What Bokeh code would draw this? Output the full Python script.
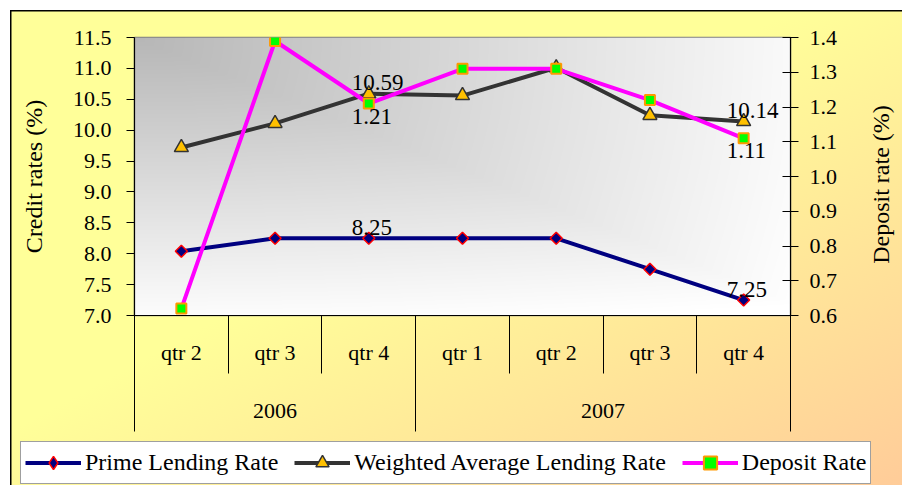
import numpy as np
from bokeh.plotting import figure
from bokeh.models import (Range1d, LinearAxis, FixedTicker, Legend, LegendItem,
                          ColumnDataSource, PrintfTickFormatter, Label)
from bokeh.embed import file_html
from bokeh.resources import INLINE
from bokeh.core.properties import value

# ---------------- data ----------------
quarters = ["qtr 2", "qtr 3", "qtr 4", "qtr 1", "qtr 2", "qtr 3", "qtr 4"]
years = ["2006", "2007"]
quarters_per_year = [3, 4]
prime_lending = [8.04, 8.25, 8.25, 8.25, 8.25, 7.75, 7.25]
weighted_avg_lending = [9.72, 10.11, 10.59, 10.56, 11.01, 10.24, 10.14]
deposit_rate = [0.62, 1.39, 1.21, 1.31, 1.31, 1.22, 1.11]
credit_ticks = [7.0, 7.5, 8.0, 8.5, 9.0, 9.5, 10.0, 10.5, 11.0, 11.5]
deposit_ticks = [0.6, 0.7, 0.8, 0.9, 1.0, 1.1, 1.2, 1.3, 1.4]
series_names = ["Prime Lending Rate", "Weighted Average Lending Rate", "Deposit Rate"]
left_title = "Credit rates (%)"
right_title = "Deposit rate (%)"
labelled_points = [2, 6]  # indices of points carrying data labels

FONT = "Liberation Serif"
BG = "linear-gradient(to bottom right, #FFFF99 45%, #FFCC99 100%) fixed"

# styles per series
STY = [
    dict(line_color="#000080", marker="square", angle=np.pi / 4, size=8.5, lmarker="diamond",
         fill_color="#000080", mline="#FF0000", mw=1.5),
    dict(line_color="#333333", marker="triangle", angle=0.0, size=14, lmarker="triangle",
         fill_color="#FFC000", mline="#333333", mw=1.5),
    dict(line_color="#FF00FF", marker="square", angle=0.0, size=10, lmarker="square",
         fill_color="#00FF00", mline="#FF9900", mw=2),
]

n = len(quarters)
xc = [i + 0.5 for i in range(n)]

p = figure(width=892, height=426, output_backend="svg", toolbar_location=None,
           x_range=Range1d(0, n), y_range=Range1d(credit_ticks[0], credit_ticks[-1]),
           min_border_left=124, min_border_right=112, min_border_top=27,
           min_border_bottom=121, x_axis_location=None, y_axis_location=None)
p.margin = (10, 0, 0, 10)
p.styles = {"background": BG, "box-shadow": "inset 1.5px 1.5px 0 0 #000000"}
p.border_fill_alpha = 0
p.background_fill_alpha = 0
p.outline_line_color = "#808080"
p.outline_line_width = 1.5
p.extra_y_ranges = {"dep": Range1d(deposit_ticks[0], deposit_ticks[-1]), "bg": Range1d(0, 1)}
p.extra_x_ranges = {"bg": Range1d(0, 1)}

# gradient plot area (style only)
H, W = 278, 656
v = np.linspace(1, 0, H)[:, None]   # 0 top, 1 bottom (row 0 = bottom)
u = np.linspace(0, 1, W)[None, :]
d = 0.75 * np.maximum(u, v * 1.05) + 0.25 * np.sqrt(u ** 2 + v ** 2) / np.sqrt(2)
d = np.clip(d, 0, 1)
g = (183 + (255 - 183) * d).astype(np.uint8)
img = np.empty((H, W), dtype=np.uint32)
view = img.view(dtype=np.uint8).reshape((H, W, 4))
view[..., 0] = g
view[..., 1] = g
view[..., 2] = g
view[..., 3] = 255
p.image_rgba(image=[img], x=0, y=0, dw=1, dh=1, x_range_name="bg", y_range_name="bg")

p.xgrid.visible = False
p.ygrid.ticker = FixedTicker(ticks=credit_ticks)
p.ygrid.grid_line_color = "#BEBEBE"
p.ygrid.grid_line_dash = "6 4"
p.ygrid.grid_line_width = 1

# left / right axes
la = LinearAxis(ticker=FixedTicker(ticks=credit_ticks),
                formatter=PrintfTickFormatter(format="%.1f"),
                axis_label=left_title)
ra = LinearAxis(y_range_name="dep", ticker=FixedTicker(ticks=deposit_ticks),
                formatter=PrintfTickFormatter(format="%.1f"))
for ax in (la, ra):
    ax.axis_line_color = "#000000"
    ax.axis_line_width = 1.2
    ax.major_tick_line_color = "#000000"
    ax.minor_tick_line_color = None
    ax.major_label_text_font = FONT
    ax.major_label_text_font_size = "22px"
    ax.major_label_text_color = "#000000"
    ax.axis_label_text_font = FONT
    ax.axis_label_text_font_size = "24px"
    ax.axis_label_text_font_style = "normal"
    ax.axis_label_text_color = "#000000"
la.major_tick_out = 8
la.major_tick_in = 0
la.major_label_standoff = 15
la.axis_label_standoff = 23
ra.major_tick_out = 8
ra.major_tick_in = 8
ra.major_label_standoff = 11
p.add_layout(la, "left")
p.add_layout(ra, "right")

# bottom axis: quarters
qa = LinearAxis(ticker=FixedTicker(ticks=xc, minor_ticks=list(range(n + 1))),
                major_label_overrides={x: q for x, q in zip(xc, quarters)})
# bottom axis: years
bounds = [0] + [int(b) for b in np.cumsum(quarters_per_year)]
ycent = [(bounds[i] + bounds[i + 1]) / 2 for i in range(len(years))]
ya = LinearAxis(ticker=FixedTicker(ticks=ycent, minor_ticks=[float(b) for b in bounds]),
                major_label_overrides={x: y for x, y in zip(ycent, years)})
for ax in (qa, ya):
    ax.major_tick_out = 0
    ax.major_tick_in = 0
    ax.minor_tick_in = 0
    ax.minor_tick_line_color = "#000000"
    ax.minor_tick_line_width = 1
    ax.major_label_text_font = FONT
    ax.major_label_text_font_size = "22px"
    ax.major_label_text_color = "#000000"
qa.axis_line_color = "#000000"
qa.axis_line_width = 1.2
qa.minor_tick_out = 58
qa.major_label_standoff = -34
ya.axis_line_color = None
ya.minor_tick_in = 52
ya.minor_tick_out = 64
ya.major_label_standoff = -28
p.add_layout(qa, "below")
p.add_layout(ya, "below")

# series
src = ColumnDataSource(dict(x=xc, prime=prime_lending, wavg=weighted_avg_lending, dep=deposit_rate))
cols = ["prime", "wavg", "dep"]
for c, s in zip(cols, STY):
    kw = dict(y_range_name="dep") if c == "dep" else {}
    p.line("x", c, source=src, line_color=s["line_color"], line_width=4, **kw)
    p.scatter("x", c, source=src, marker=s["marker"], angle=s["angle"], size=s["size"],
              fill_color=s["fill_color"], line_color=s["mline"], line_width=s["mw"], **kw)

# data labels
above = ColumnDataSource(dict(
    x=[xc[i] for i in labelled_points] * 2,
    y=[weighted_avg_lending[i] for i in labelled_points] + [prime_lending[i] for i in labelled_points],
    t=["%.2f" % weighted_avg_lending[i] for i in labelled_points] + ["%.2f" % prime_lending[i] for i in labelled_points]))
below = ColumnDataSource(dict(
    x=[xc[i] for i in labelled_points],
    y=[deposit_rate[i] for i in labelled_points],
    t=["%.2f" % deposit_rate[i] for i in labelled_points]))
p.text("x", "y", text="t", source=above, text_font=value(FONT), text_font_size="23px",
       text_color="#000000", text_align="left", text_baseline="alphabetic",
       x_offset=-17, y_offset=-11)
p.text("x", "y", text="t", source=below, y_range_name="dep", text_font=value(FONT),
       text_font_size="23px", text_color="#000000", text_align="left", text_baseline="top",
       x_offset=-17, y_offset=5)

# legend strip (second figure; dummy renderers carry the series styles)
p2 = figure(width=892, height=49, output_backend="svg", toolbar_location=None,
            x_range=Range1d(0, 1), y_range=Range1d(0, 1),
            min_border=0, x_axis_location=None, y_axis_location=None)
p2.margin = (0, 0, 0, 10)
p2.styles = {"background": BG, "box-shadow": "inset 1.5px 0 0 0 #000000"}
p2.border_fill_alpha = 0
p2.background_fill_alpha = 0
p2.outline_line_color = None
p2.grid.visible = False
items = []
for name, s in zip(series_names, STY):
    lr = p2.line([-5, -4], [-5, -4], line_color=s["line_color"], line_width=4)
    mr = p2.scatter([-5], [-5], marker=s["lmarker"], size=s["size"],
                    fill_color=s["fill_color"], line_color=s["mline"], line_width=s["mw"])
    items.append(LegendItem(label=name, renderers=[lr, mr]))
legend = Legend(items=items, orientation="horizontal", location=(10, 1))
legend.label_text_font = FONT
legend.label_text_font_size = "24px"
legend.label_text_color = "#000000"
legend.glyph_width = 56
legend.glyph_height = 33
legend.label_standoff = 4
legend.spacing = 16
legend.padding = 4
legend.margin = 0
legend.border_line_color = "#404040"
legend.border_line_width = 1
legend.background_fill_color = "#FFFFFF"
legend.background_fill_alpha = 1
p2.add_layout(legend, "center")

# right axis title, reading bottom-to-top like the reference (overlay strip)
p3 = figure(width=40, height=220, output_backend="svg", toolbar_location=None,
            x_range=Range1d(0, 1), y_range=Range1d(0, 1),
            min_border=0, x_axis_location=None, y_axis_location=None)
p3.styles = {"position": "absolute", "left": "860px", "top": "74px"}
p3.border_fill_alpha = 0
p3.background_fill_alpha = 0
p3.outline_line_color = None
p3.grid.visible = False
p3.add_layout(Label(x=20, y=110, x_units="screen", y_units="screen", text=right_title,
                    angle=np.pi / 2, text_align="center", text_baseline="middle",
                    text_font=FONT, text_font_size="24px", text_color="#000000"), "center")

open("out.html", "w").write(file_html([p, p2, p3], INLINE))
